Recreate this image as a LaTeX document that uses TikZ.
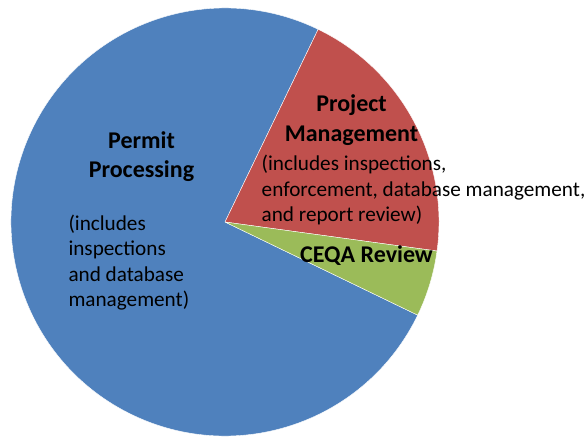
\documentclass[tikz,border=0pt]{standalone}
\usepackage{fontspec}
\setmainfont{Carlito}
\definecolor{pblue}{HTML}{4F81BD}
\definecolor{pred}{HTML}{C0504D}
\definecolor{pgreen}{HTML}{9BBB59}
\begin{document}
\begin{tikzpicture}[x=1pt,y=1pt,
  slice/.style={draw=white,line width=0.4pt,line join=round},
  lbl/.style={inner sep=0pt,font=\fontsize{21.2}{25.5}\selectfont},
  ttl/.style={inner sep=0pt,font=\fontsize{24}{28}\selectfont\bfseries}]
\useasboundingbox (0,0) rectangle (588,437);
\coordinate (c) at (225,215);
\def\R{214}
\fill[pblue,slice] (c) -- ++(64.2:\R) arc[start angle=64.2,end angle=334.2,radius=\R] -- cycle;
\fill[pred,slice] (c) -- ++(-7.8:\R) arc[start angle=-7.8,end angle=64.2,radius=\R] -- cycle;
\fill[pgreen,slice] (c) -- ++(-25.8:\R) arc[start angle=-25.8,end angle=-7.8,radius=\R] -- cycle;
% Permit Processing
\node[ttl,anchor=base] (pp1) at (141.5,288) {Permit};
\node[ttl,anchor=base] (pp2) at (141.5,259.7) {Processing};
\node[lbl,anchor=base west] (pd1) at (68.3,207) {(includes};
\node[lbl,anchor=base west] (pd2) at (68.3,181.5) {inspections};
\node[lbl,anchor=base west] (pd3) at (68.3,156) {and database};
\node[lbl,anchor=base west] (pd4) at (68.3,130.5) {management)};
% Project Management
\node[ttl,anchor=base] (pm1) at (351.5,325.3) {Project};
\node[ttl,anchor=base] (pm2) at (351.5,295.3) {Management};
\node[lbl,anchor=base west] (md1) at (261.5,266.3) {(includes inspections,};
\node[lbl,anchor=base west] (md2) at (261.5,240.8) {enforcement, database management,};
\node[lbl,anchor=base west] (md3) at (261.5,215.3) {and report review)};
% CEQA
\node[ttl,anchor=base west] (cq) at (300,174.3) {CEQA Review};
\end{tikzpicture}
\end{document}
